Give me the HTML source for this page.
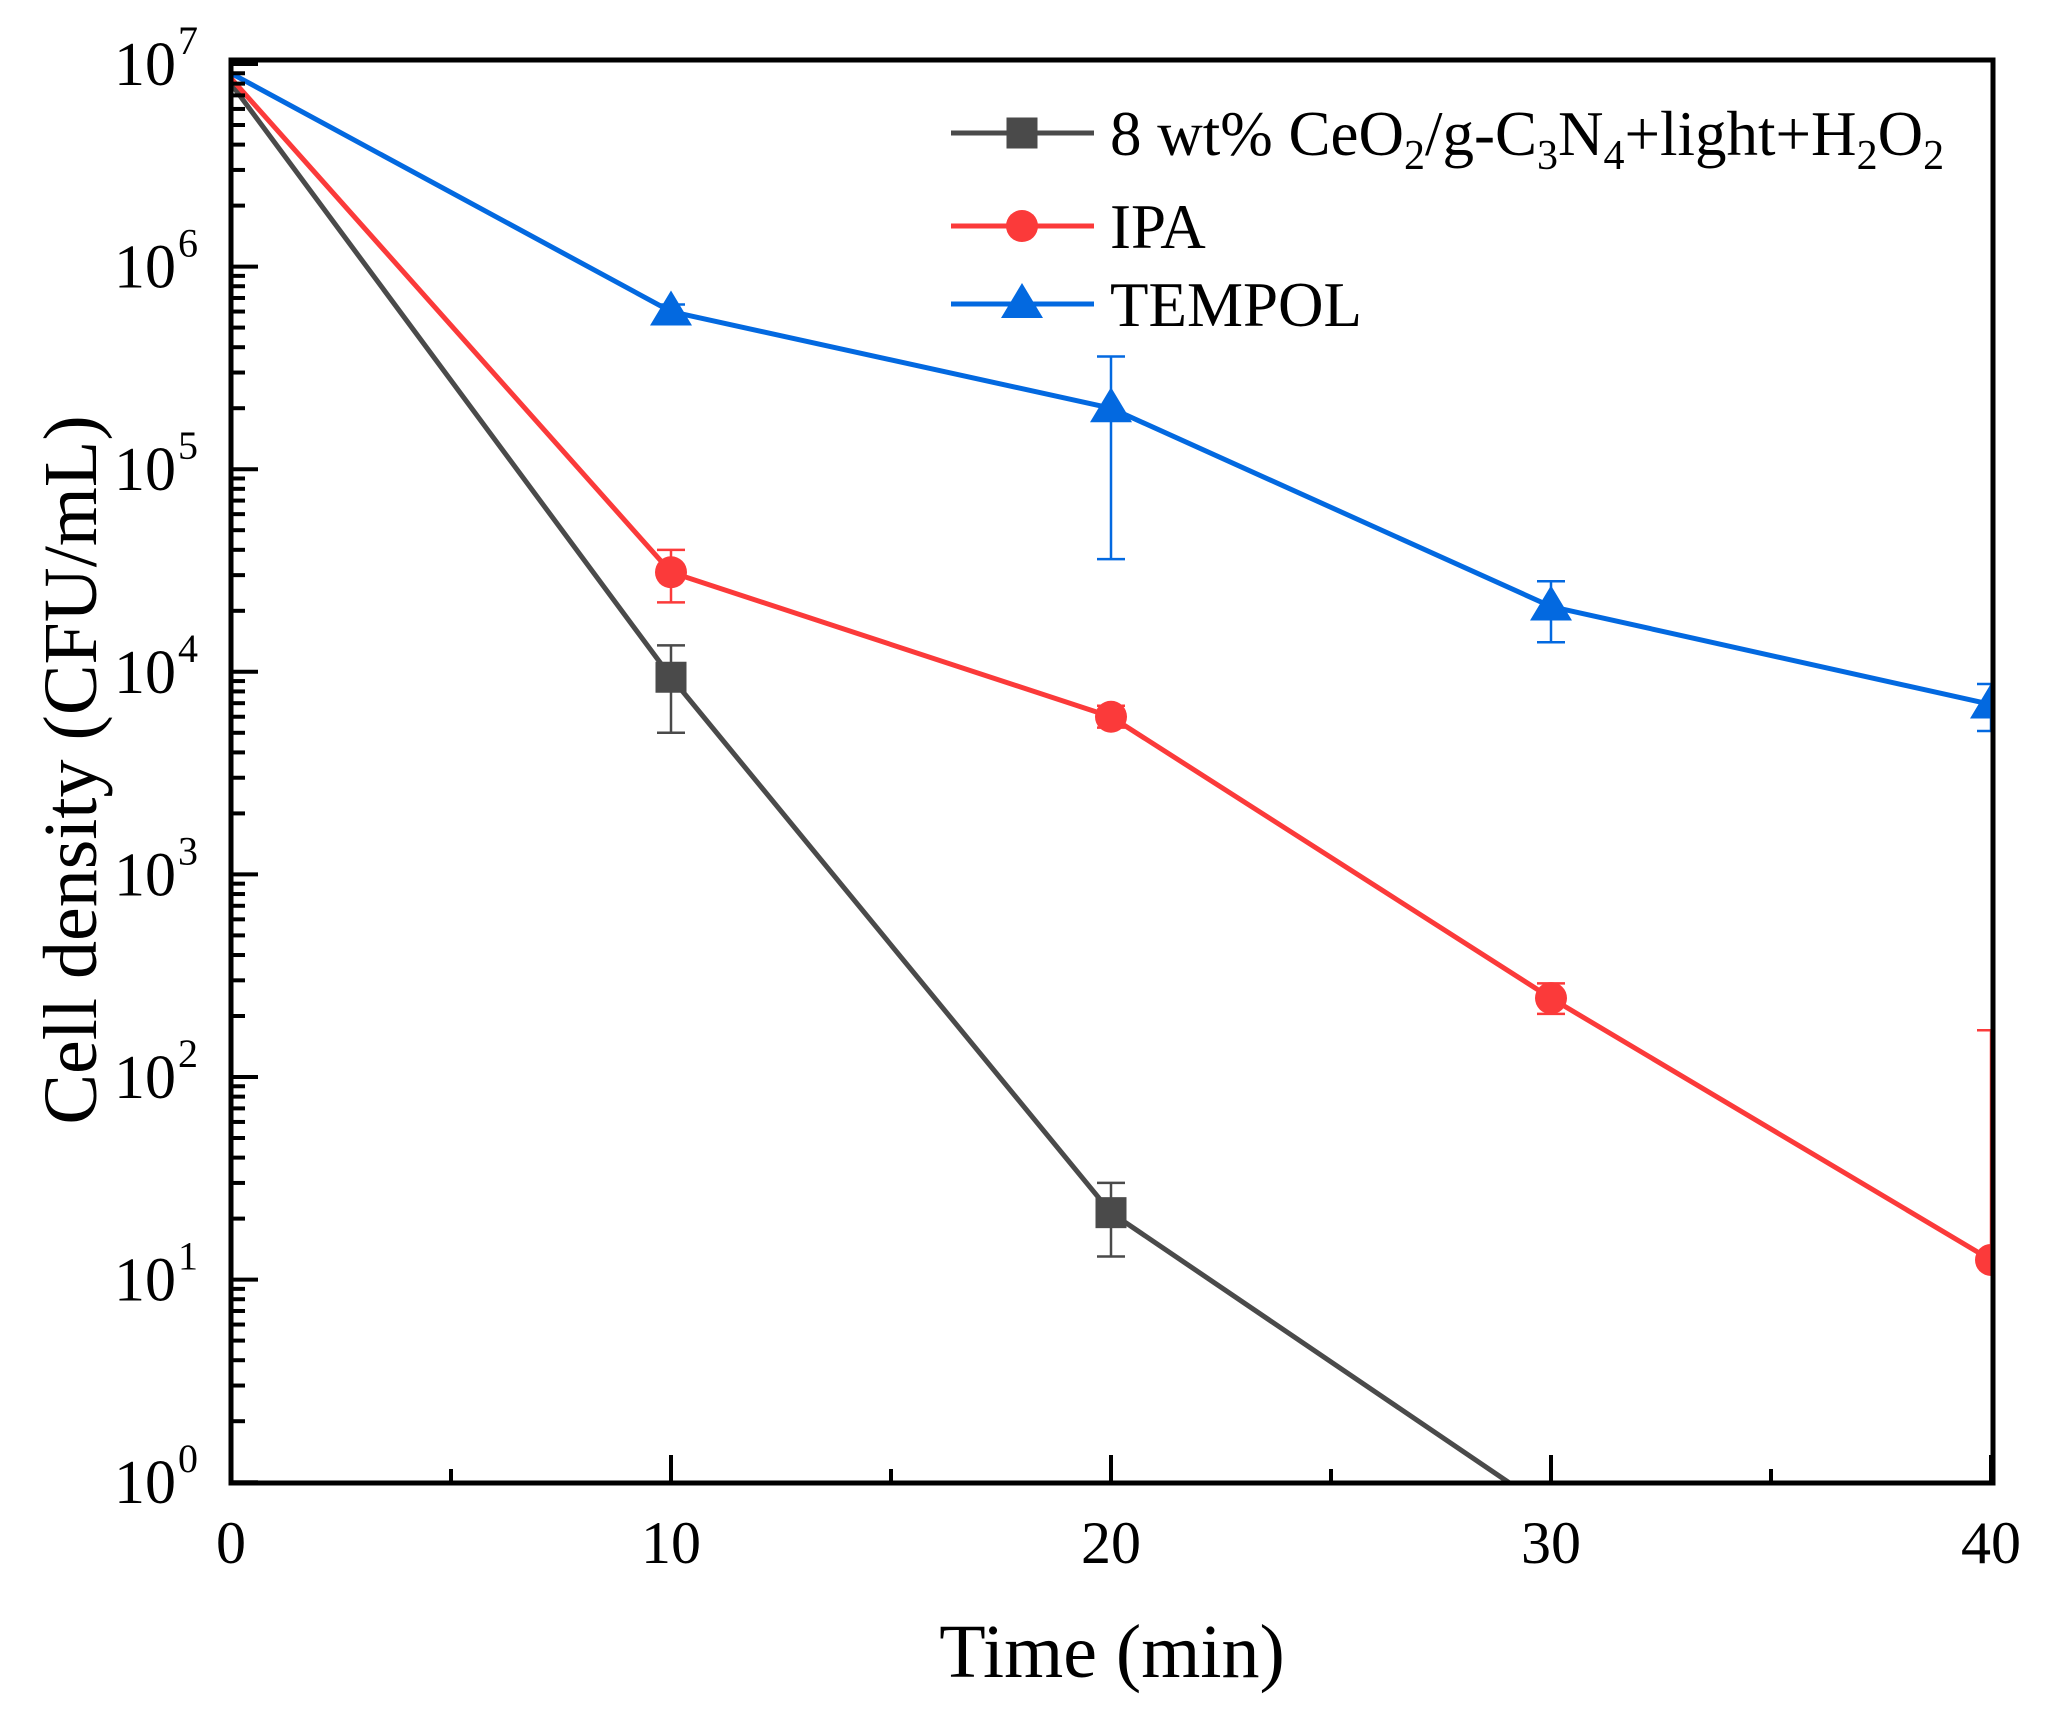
<!DOCTYPE html>
<html><head><meta charset="utf-8"><style>
html,body{margin:0;padding:0;background:#fff;}
svg{display:block;font-family:"Liberation Serif",serif;}
</style></head><body>
<svg id="chart" width="2060" height="1709" viewBox="0 0 2060 1709" xmlns="http://www.w3.org/2000/svg">
<defs><clipPath id="plotclip"><rect x="231" y="60" width="1762" height="1423"/></clipPath></defs>
<g id="plot" clip-path="url(#plotclip)"></g>
<g id="axes"></g>
<g id="legend"></g>
</svg>
<script>
const times = [0, 10, 20, 30, 40];
const ceo2Values = [8e6, 9.4e3, 21.4, 0.72, null];
const ceo2Lo = [null, 5e3, 13, null, null];
const ceo2Hi = [null, 1.35e4, 30, null, null];
const ipaValues = [8.5e6, 3.1e4, 6e3, 245, 12.5];
const ipaLo = [null, 2.2e4, 5.3e3, 205, null];
const ipaHi = [null, 4e4, 6.8e3, 290, 170];
const tempolValues = [9e6, 6e5, 2e5, 2.1e4, 6.9e3];
const tempolLo = [null, 5.5e5, 3.6e4, 1.4e4, 5.1e3];
const tempolHi = [null, 6.5e5, 3.6e5, 2.8e4, 8.7e3];
const xTicks = [0, 10, 20, 30, 40];
const xTickLabels = ["0", "10", "20", "30", "40"];
const yExponents = [0, 1, 2, 3, 4, 5, 6, 7];

const NS = "http://www.w3.org/2000/svg";
const X0 = 231, XK = 44, Y7 = 64, DEC = 202.6;
function xs(t){ return X0 + XK * t; }
function ys(v){ return Y7 + (7 - Math.log10(v)) * DEC; }
function mk(tag, attrs, parent){
  const e = document.createElementNS(NS, tag);
  for (const k in attrs) e.setAttribute(k, attrs[k]);
  parent.appendChild(e); return e;
}
const plot = document.getElementById('plot');
const axes = document.getElementById('axes');
const legend = document.getElementById('legend');

function marker(shape, cx, cy, color, parent){
  let e;
  if (shape === 'square') e = mk('rect', {x: cx-15.5, y: cy-15.5, width: 31, height: 31, fill: color}, parent);
  else if (shape === 'circle') e = mk('ellipse', {cx: cx, cy: cy, rx: 16, ry: 16, fill: color}, parent);
  else e = mk('polygon', {points: `${cx},${cy-21} ${cx+21},${cy+14} ${cx-21},${cy+14}`, fill: color}, parent);
  return e;
}

const series = [
  {name: 'ceo2', vals: ceo2Values, lo: ceo2Lo, hi: ceo2Hi, color: '#4a4a4a', shape: 'square'},
  {name: 'ipa', vals: ipaValues, lo: ipaLo, hi: ipaHi, color: '#fb3a3a', shape: 'circle'},
  {name: 'tempol', vals: tempolValues, lo: tempolLo, hi: tempolHi, color: '#0369e0', shape: 'triangle'}
];
series.forEach(s => {
  const g = mk('g', {}, plot);
  
  
  let pts = [];
  s.vals.forEach((v, i) => { if (v != null) pts.push(xs(times[i]) + ',' + ys(v)); });
  const line = mk('polyline', {points: pts.join(' '), fill: 'none', stroke: s.color, 'stroke-width': 5, 'stroke-linejoin': 'round'}, g);
  
  
  s.vals.forEach((v, i) => {
    if (v == null) return;
    const cx = xs(times[i]);
    const eb = mk('g', {stroke: s.color, 'stroke-width': 2.5}, g);
    
    
    if (s.hi[i] != null) {
      mk('line', {x1: cx, x2: cx, y1: ys(v), y2: ys(s.hi[i])}, eb);
      mk('line', {x1: cx-14, x2: cx+14, y1: ys(s.hi[i]), y2: ys(s.hi[i])}, eb);
    }
    if (s.lo[i] != null) {
      mk('line', {x1: cx, x2: cx, y1: ys(v), y2: ys(s.lo[i])}, eb);
      mk('line', {x1: cx-14, x2: cx+14, y1: ys(s.lo[i]), y2: ys(s.lo[i])}, eb);
    }
    if (i === 0) return;
    const m = marker(s.shape, cx, ys(v), s.color, g);
    
    
  });
});

const frame = mk('rect', {x: 231, y: 60, width: 1762, height: 1423, fill: 'none', stroke: '#000', 'stroke-width': 5}, axes);


xTicks.forEach((t, i) => {
  const x = xs(t);
  const tk = mk('line', {x1: x, x2: x, y1: 1483, y2: 1455, stroke: '#000', 'stroke-width': 4}, axes);
  
  
  const lb = mk('text', {x: x, y: 1563, 'font-size': 60, 'text-anchor': 'middle'}, axes);
  lb.textContent = xTickLabels[i];
  
  
  if (i < xTicks.length - 1) {
    const xm = xs(t + 5);
    const mt = mk('line', {x1: xm, x2: xm, y1: 1483, y2: 1469, stroke: '#000', 'stroke-width': 4}, axes);
    
    
  }
});
yExponents.forEach(e => {
  const y = ys(Math.pow(10, e));
  const tk = mk('line', {x1: 231, x2: 258, y1: y, y2: y, stroke: '#000', 'stroke-width': 4}, axes);
  
  
  const lb = mk('text', {x: 176, y: y + 21, 'font-size': 62, 'text-anchor': 'end'}, axes);
  lb.textContent = '10';
  
  
  const sp = mk('text', {x: 178, y: y - 10, 'font-size': 40, 'text-anchor': 'start'}, axes);
  sp.textContent = String(e);
  
  
  if (e < 7) {
    for (let k = 2; k <= 9; k++) {
      const ym = ys(k * Math.pow(10, e));
      const mt = mk('line', {x1: 231, x2: 245, y1: ym, y2: ym, stroke: '#000', 'stroke-width': 4}, axes);
      
      
    }
  }
});
const xt = mk('text', {x: 1112, y: 1677, 'font-size': 76, 'text-anchor': 'middle'}, axes);
xt.textContent = 'Time (min)';


const yt = mk('text', {x: 0, y: 0, 'font-size': 76, 'text-anchor': 'middle', transform: 'translate(96,770) rotate(-90)'}, axes);
yt.textContent = 'Cell density (CFU/mL)';



const legendItems = [
  {y: 133, color: '#4a4a4a', shape: 'square', html: '8 wt% CeO<tspan font-size="42" dy="14">2</tspan><tspan dy="-14">/g-C</tspan><tspan font-size="42" dy="14">3</tspan><tspan dy="-14">N</tspan><tspan font-size="42" dy="14">4</tspan><tspan dy="-14">+light+H</tspan><tspan font-size="42" dy="14">2</tspan><tspan dy="-14">O</tspan><tspan font-size="42" dy="14">2</tspan>'},
  {y: 226, color: '#fb3a3a', shape: 'circle', html: 'IPA'},
  {y: 304, color: '#0369e0', shape: 'triangle', html: 'TEMPOL'}
];
legendItems.forEach(it => {
  const g = mk('g', {}, legend);
  
  
  mk('line', {x1: 951, x2: 1094, y1: it.y, y2: it.y, stroke: it.color, 'stroke-width': 5}, g);
  marker(it.shape, 1022, it.y, it.color, g);
  const t = mk('text', {x: 1110, y: it.y + 22, 'font-size': 63}, g);
  t.innerHTML = it.html;
});
</script>
</body></html>
